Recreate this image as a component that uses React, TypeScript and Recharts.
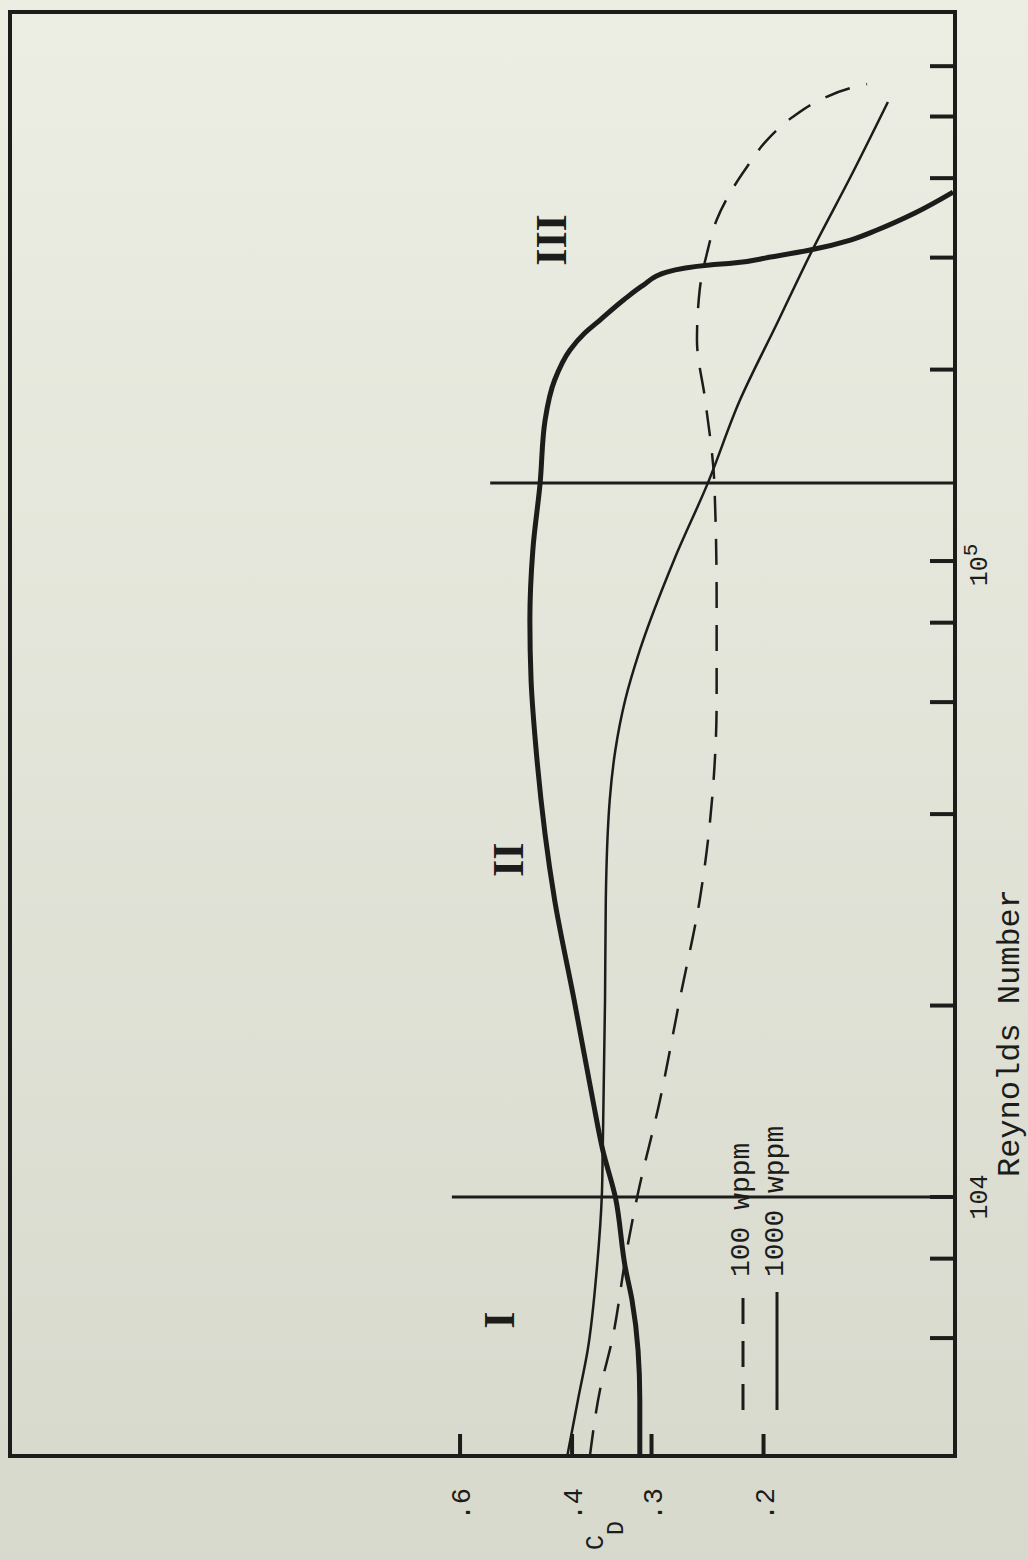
import React from 'react';
import { LineChart, Line, XAxis, YAxis, ReferenceLine, ReferenceArea, ReferenceDot, Legend } from 'recharts';

const INK = '#1c1c1a';
const MONO = '"Liberation Mono", "DejaVu Sans Mono", monospace';
const SERIF = '"Liberation Serif", "DejaVu Serif", serif';

// axes (both log)
const reDomain = [3915, 730000];
const cdDomain = [0.1, 3.06];
const reTicks = [6000, 8000, 10000, 20000, 40000, 60000, 80000, 100000, 200000, 300000, 400000, 500000, 600000];
const cdTicks = [0.2, 0.3, 0.4, 0.6];
const cdTickLabels = ['.2', '.3', '.4', '.6'];

// heavy curve (no legend entry)
const baseRe = [3915, 4800, 5745, 6890, 7760, 10000, 11860, 14200, 20400, 29300, 52300, 65000, 80800, 104100, 132700, 166600, 192600, 214700, 228300, 239300, 257300, 271600, 284700, 292000, 294100, 300600, 308300, 319700, 331500, 352500, 380200];
const baseCd = [0.313, 0.313, 0.315, 0.322, 0.33, 0.342, 0.358, 0.371, 0.397, 0.426, 0.457, 0.464, 0.466, 0.461, 0.449, 0.441, 0.426, 0.403, 0.382, 0.3615, 0.332, 0.309, 0.284, 0.243, 0.223, 0.195, 0.169, 0.146, 0.1326, 0.1156, 0.1007];

// 100 wppm (dashed)
const w100Re = [3915, 4970, 5960, 8255, 10000, 14200, 20400, 29300, 42100, 60450, 86850, 132700, 179100, 222600, 266800, 305000, 343800, 378900, 416500, 459100, 499000, 530700, 554300, 562300];
const w100Cd = [0.375, 0.3615, 0.346, 0.328, 0.316, 0.291, 0.271, 0.252, 0.241, 0.237, 0.237, 0.239, 0.247, 0.2545, 0.252, 0.2454, 0.237, 0.2258, 0.2124, 0.1975, 0.18, 0.163, 0.146, 0.1375];

// 1000 wppm (thin solid)
const w1000Re = [3915, 4800, 5745, 7760, 10150, 11860, 20400, 29300, 42100, 50400, 60450, 72400, 100400, 132700, 179100, 235000, 310500, 401600, 527000];
const w1000Cd = [0.407, 0.3915, 0.378, 0.3655, 0.359, 0.358, 0.355, 0.354, 0.349, 0.342, 0.33, 0.313, 0.2765, 0.2446, 0.2178, 0.191, 0.167, 0.146, 0.1275];

// region boundaries and labels
const boundaryRe = [10000, 132700];
const boundaryTop = [0.618, 0.538];
const regionNames = ['I', 'II', 'III'];
const regionRe = [6400, 33900, 319700];
const regionCd = [0.523, 0.506, 0.433];

const zip = (re: number[], cd: number[]) => re.map((r, i) => ({ re: r, cd: cd[i] }));
const baseData = zip(baseRe, baseCd);
const w100Data = zip(w100Re, w100Cd);
const w1000Data = zip(w1000Re, w1000Cd);

function ReTick({ x, y, payload }: any) {
  const v = payload.value;
  return (
    <g>
      <line x1={x} y1={y} x2={x} y2={y - 25} stroke={INK} strokeWidth={4} />
      {v === 10000 && (
        <text x={x} y={y + 32} textAnchor="middle" fontFamily={MONO} fontSize={25} fill={INK}>104</text>
      )}
      {v === 100000 && (
        <text x={x - 4} y={y + 32} textAnchor="middle" fontFamily={MONO} fontSize={25} fill={INK}>
          10<tspan dy={-10} fontSize={21}>5</tspan>
        </text>
      )}
    </g>
  );
}

function CdTick({ x, y, payload }: any) {
  const label = cdTickLabels[cdTicks.indexOf(payload.value)];
  return (
    <g>
      <line x1={x} y1={y} x2={x + 22} y2={y} stroke={INK} strokeWidth={4} />
      <text x={x - 32} y={y + 3} textAnchor="end" dominantBaseline="central" fontFamily={MONO} fontSize={27} fill={INK}>{label}</text>
    </g>
  );
}

function CdTitle({ viewBox }: any) {
  const vb = viewBox || { x: 0, y: 10 };
  return (
    <text x={vb.x + 10} y={vb.y + 593} fontFamily={MONO} fontSize={25} fill={INK}>
      C<tspan dy={20} fontSize={23}>D</tspan>
    </text>
  );
}

function ReTitle({ viewBox }: any) {
  const vb = viewBox || { x: 104, y: 955 };
  return (
    <text x={vb.x + 423} y={vb.y + 64} textAnchor="middle" fontFamily={MONO} fontSize={32} fill={INK}>Reynolds Number</text>
  );
}

function LegendBox({ payload }: any) {
  const items = (payload || []).filter((p: any) => p.type !== 'none');
  return (
    <svg width={330} height={80}>
      {items.map((p: any, i: number) => {
        const cy = 21 + i * 34;
        return (
          <g key={p.value}>
            <line x1={0} x2={118} y1={cy} y2={cy} stroke={INK} strokeWidth={3} strokeDasharray={p.payload?.strokeDasharray} />
            <text x={133} y={cy + 6} fontFamily={MONO} fontSize={28} fill={INK}>{p.value}</text>
          </g>
        );
      })}
    </svg>
  );
}

export default function App() {
  return (
    <div style={{ position: 'absolute', left: 0, top: 0, width: 1028, height: 1560, overflow: 'hidden', background: 'linear-gradient(#eceee3, #d7d9cd)' }}>
      <div style={{ position: 'absolute', left: 0, top: 0, width: 1560, height: 1028, transformOrigin: '0 0', transform: 'translateY(1560px) rotate(-90deg)' }}>
        <LineChart width={1560} height={1028} margin={{ top: 10, right: 12, bottom: 0, left: 0 }}>
          <XAxis
            dataKey="re"
            type="number"
            scale="log"
            domain={reDomain}
            allowDataOverflow
            ticks={reTicks}
            interval={0}
            tickSize={0}
            tickMargin={0}
            tick={<ReTick />}
            axisLine={{ stroke: INK, strokeWidth: 4 }}
            height={73}
            label={<ReTitle />}
          />
          <YAxis
            dataKey="cd"
            type="number"
            scale="log"
            domain={cdDomain}
            allowDataOverflow
            ticks={cdTicks}
            interval={0}
            tickSize={0}
            tickMargin={0}
            tick={<CdTick />}
            axisLine={{ stroke: INK, strokeWidth: 4 }}
            width={104}
            label={<CdTitle />}
          />
          <ReferenceArea x1={reDomain[0]} x2={reDomain[1]} y1={cdDomain[0]} y2={cdDomain[1]} fill="none" fillOpacity={0} stroke={INK} strokeWidth={4} ifOverflow="visible" />
          {boundaryRe.map((r, i) => (
            <ReferenceLine key={r} segment={[{ x: r, y: cdDomain[0] }, { x: r, y: boundaryTop[i] }]} stroke={INK} strokeWidth={3} ifOverflow="visible" />
          ))}
          {regionNames.map((n, i) => (
            <ReferenceDot
              key={n}
              x={regionRe[i]}
              y={regionCd[i]}
              r={0}
              fill="none"
              stroke="none"
              label={{ value: n, position: 'center', fontSize: 44, fontWeight: 700, fontFamily: SERIF, fill: INK }}
            />
          ))}
          <Line data={baseData} dataKey="cd" type="monotone" stroke={INK} strokeWidth={5} dot={false} legendType="none" isAnimationActive={false} />
          <Line data={w100Data} dataKey="cd" name="100 wppm" type="monotone" stroke={INK} strokeWidth={2.5} strokeDasharray="26 17" dot={false} isAnimationActive={false} />
          <Line data={w1000Data} dataKey="cd" name="1000 wppm" type="monotone" stroke={INK} strokeWidth={2.5} dot={false} isAnimationActive={false} />
          <Legend layout="horizontal" verticalAlign="middle" align="center" wrapperStyle={{ left: 150, top: 722, width: 330, height: 80 }} content={<LegendBox />} />
        </LineChart>
      </div>
    </div>
  );
}
